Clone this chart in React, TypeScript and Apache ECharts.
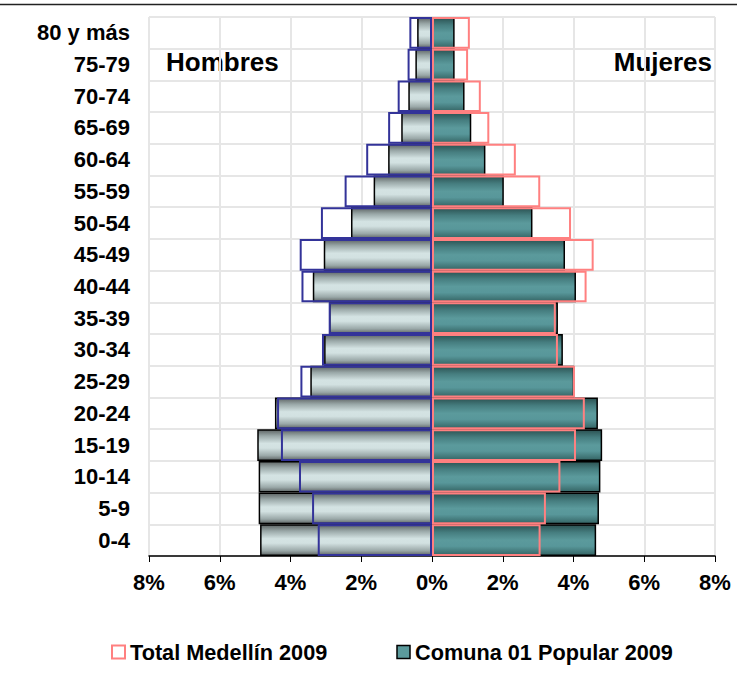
import React, { useEffect, useRef } from "react";
import * as echarts from "echarts";

const ageGroups = [
  "0-4", "5-9", "10-14", "15-19", "20-24", "25-29", "30-34", "35-39", "40-44",
  "45-49", "50-54", "55-59", "60-64", "65-69", "70-74", "75-79", "80 y más",
];

// Comuna 01 Popular 2009 (% of population)
const comunaHombres = [4.86, 4.9, 4.9, 4.94, 4.44, 3.44, 3.05, 2.91, 3.37, 3.06, 2.29, 1.65, 1.24, 0.87, 0.67, 0.47, 0.42];
const comunaMujeres = [4.64, 4.72, 4.76, 4.81, 4.69, 4.02, 3.7, 3.56, 4.07, 3.76, 2.84, 2.03, 1.51, 1.11, 0.92, 0.64, 0.64];

// Total Medellín 2009 (% of population)
const medellinHombres = [3.23, 3.39, 3.76, 4.27, 4.38, 3.72, 3.11, 2.92, 3.69, 3.74, 3.14, 2.47, 1.86, 1.24, 0.97, 0.69, 0.64];
const medellinMujeres = [3.07, 3.22, 3.63, 4.07, 4.32, 4.04, 3.56, 3.5, 4.37, 4.57, 3.93, 3.06, 2.37, 1.62, 1.38, 1.02, 1.07];

const xTicks = { min: -8, max: 8, interval: 2 };

const SERIES_COMUNA = "Comuna 01 Popular 2009";
const SERIES_MEDELLIN = "Total Medellín 2009";

const FONT = "'Liberation Sans', Arial, sans-serif";

export default function App() {
  const ref = useRef<HTMLDivElement>(null);

  useEffect(() => {
    if (!ref.current) return;
    const chart = echarts.init(ref.current, null, { renderer: "svg" });

    const grayGrad = new echarts.graphic.LinearGradient(0, 0, 0, 1, [
      { offset: 0, color: "#5e6565" },
      { offset: 0.2, color: "#9aa8a8" },
      { offset: 0.45, color: "#d4e3e3" },
      { offset: 0.6, color: "#d2e1e1" },
      { offset: 0.85, color: "#9aa8a8" },
      { offset: 1, color: "#5e6565" },
    ]);
    const tealGrad = new echarts.graphic.LinearGradient(0, 0, 0, 1, [
      { offset: 0, color: "#2b5252" },
      { offset: 0.25, color: "#467e80" },
      { offset: 0.5, color: "#5b9a9c" },
      { offset: 0.7, color: "#58979a" },
      { offset: 1, color: "#356565" },
    ]);

    const neg = (a: number[]) => a.map((v) => -v);

    chart.setOption({
      animation: false,
      backgroundColor: "#ffffff",
      textStyle: { fontFamily: FONT },
      grid: { left: 149, right: 23, top: 17, bottom: 121, containLabel: false },
      legend: {
        left: 106,
        top: 636,
        itemWidth: 13,
        itemHeight: 13,
        itemGap: 69,
        icon: "rect",
        textStyle: { fontFamily: FONT, fontSize: 21.7, fontWeight: "bold", color: "#000" },
        data: [
          {
            name: SERIES_MEDELLIN,
            itemStyle: { color: "#ffffff", borderColor: "#ff8080", borderWidth: 2 },
          },
          {
            name: SERIES_COMUNA,
            itemStyle: { color: "#5b9a9c", borderColor: "#000000", borderWidth: 1.5 },
          },
        ],
      },
      xAxis: {
        type: "value",
        min: xTicks.min,
        max: xTicks.max,
        interval: xTicks.interval,
        axisLine: { show: true, lineStyle: { color: "#000", width: 1.5 } },
        axisTick: { show: true, length: 6, lineStyle: { color: "#000", width: 1 } },
        axisLabel: {
          formatter: (v: number) => Math.abs(v) + "%",
          fontFamily: FONT,
          fontSize: 22,
          fontWeight: "bold",
          color: "#000",
          margin: 15,
        },
        splitLine: { show: true, lineStyle: { color: "#e6e6e6", width: 2 } },
      },
      yAxis: {
        type: "category",
        data: ageGroups,
        axisLine: { show: false },
        axisTick: { show: false },
        axisLabel: {
          fontFamily: FONT,
          fontSize: 22,
          fontWeight: "bold",
          color: "#000",
          margin: 19,
        },
        splitLine: { show: true, lineStyle: { color: "#e6e6e6", width: 2 } },
      },
      series: [
        {
          name: SERIES_COMUNA,
          type: "bar",
          data: neg(comunaHombres),
          barGap: "-100%",
          barCategoryGap: "0%",
          itemStyle: { color: grayGrad, borderColor: "#000", borderWidth: 1.5 },
        },
        {
          name: SERIES_COMUNA,
          type: "bar",
          data: comunaMujeres,
          barGap: "-100%",
          barCategoryGap: "0%",
          itemStyle: { color: tealGrad, borderColor: "#000", borderWidth: 1.5 },
        },
        {
          name: SERIES_MEDELLIN,
          type: "bar",
          data: neg(medellinHombres),
          barGap: "-100%",
          barCategoryGap: "0%",
          itemStyle: { color: "rgba(0,0,0,0)", borderColor: "#333399", borderWidth: 2 },
        },
        {
          name: SERIES_MEDELLIN,
          type: "bar",
          data: medellinMujeres,
          barGap: "-100%",
          barCategoryGap: "0%",
          itemStyle: { color: "rgba(0,0,0,0)", borderColor: "#ff8080", borderWidth: 2 },
        },
      ],
      graphic: [
        {
          type: "line",
          shape: { x1: 0, y1: 4.5, x2: 737, y2: 4.5 },
          style: { stroke: "#222", lineWidth: 1.5 },
        },
        {
          type: "text",
          x: 166,
          y: 62,
          style: {
            text: "Hombres",
            font: `bold 26px ${FONT}`,
            fill: "#000",
            align: "left",
            verticalAlign: "middle",
          },
        },
        {
          type: "text",
          x: 712,
          y: 62,
          style: {
            text: "Mujeres",
            font: `bold 26px ${FONT}`,
            fill: "#000",
            align: "right",
            verticalAlign: "middle",
          },
        },
      ],
    });

    return () => chart.dispose();
  }, []);

  return (
    <div
      ref={ref}
      style={{ position: "fixed", left: 0, top: 0, width: 738, height: 677, background: "#fff" }}
    />
  );
}
